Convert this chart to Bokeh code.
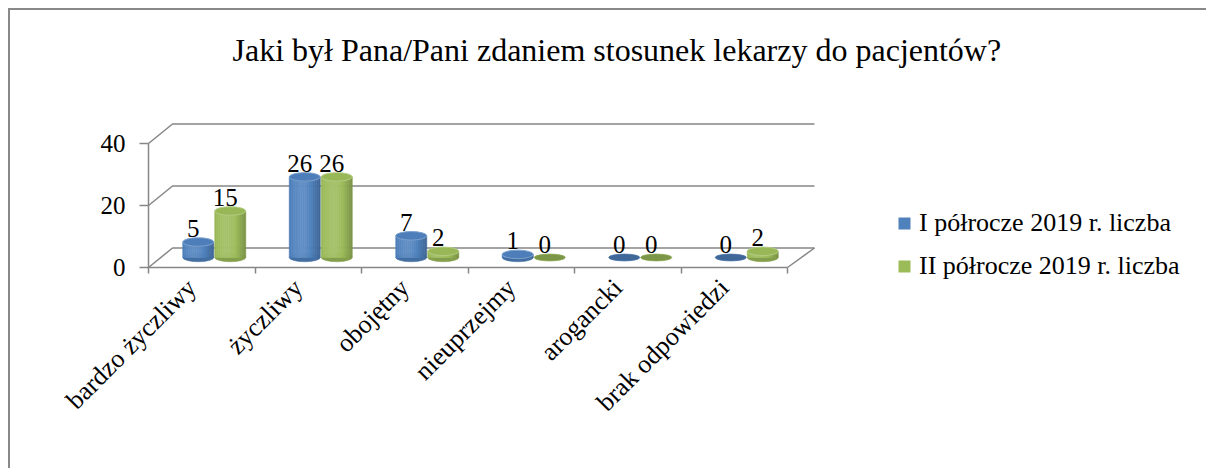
import numpy as np
from bokeh.plotting import figure
from bokeh.models import Range1d, LinearAxis, FixedTicker, Legend, LegendItem
from bokeh.embed import file_html
from bokeh.resources import INLINE
from bokeh.core.properties import value

# ---------------- data ----------------
title_text = "Jaki był Pana/Pani zdaniem stosunek lekarzy do pacjentów?"
categories = ["bardzo życzliwy", "życzliwy", "obojętny", "nieuprzejmy", "arogancki", "brak odpowiedzi"]
series_names = ["I półrocze 2019 r. liczba", "II półrocze 2019 r. liczba"]
series_1 = [5, 26, 7, 1, 0, 0]
series_2 = [15, 26, 2, 0, 0, 2]
y_ticks = [0, 20, 40]

# ---------------- style ----------------
FONT = "Liberation Serif"
AXIS_GRAY = "#868686"
BASE_COLORS = [(79, 129, 189), (155, 187, 89)]

# page geometry (px): frame spans x 10..1195, y 72..466; category 0 starts at x 148, value 0 at y 267
PX_X = 106.5          # px per category
PX_Y = 3.1            # px per value unit
X_MIN = -(148 - 10) / PX_X
X_MAX = (1195 - 148) / PX_X
Y_MAX = (267 - 72) / PX_Y
Y_MIN = -(466 - 267) / PX_Y

DXL = 24 / PX_X       # depth offset at left
DXR = 27 / PX_X       # depth offset at right
DY = 19.5 / PX_Y      # depth offset vertical
MID_DX = 12.5 / PX_X
MID_DY = 10 / PX_Y
BAR_W = 31 / PX_X
BAR_OFF = 16 / PX_X
ELL_H = 8.5 / PX_Y
N_STRIPS = 16
LABEL_SHIFT = 10 / PX_X


def mix(rgb, s):
    if s >= 0:
        c = tuple(int(round(v + (255 - v) * s)) for v in rgb)
    else:
        c = tuple(int(round(v * (1 + s))) for v in rgb)
    return "#%02x%02x%02x" % c


def shade(t):
    return 0.24 * np.cos(np.pi * (t - 0.38)) - 0.13


p = figure(width=1198, height=460,
           x_range=Range1d(X_MIN, X_MAX), y_range=Range1d(Y_MIN, Y_MAX),
           x_axis_type=None, y_axis_type=None,
           output_backend="svg", toolbar_location=None,
           min_border_left=0, min_border_right=13,
           min_border_top=62, min_border_bottom=4)
p.outline_line_color = None
p.background_fill_color = "white"
p.border_fill_color = "white"
p.styles = {"margin-left": "8px", "margin-top": "8px",
            "border-left": "2px solid #898989", "border-top": "2px solid #898989"}

p.title.text = title_text
p.title.text_font = FONT
p.title.text_font_size = "32px"
p.title.text_font_style = "normal"
p.title.text_color = "black"
p.title.align = "left"
p.title.offset = 222
p.title.standoff = 10

# y axis (front edge), fixed at category position 0
yax = LinearAxis(ticker=FixedTicker(ticks=y_ticks), bounds=(0, 40), fixed_location=0)
yax.axis_line_color = AXIS_GRAY
yax.axis_line_width = 1.5
yax.major_tick_line_color = AXIS_GRAY
yax.major_tick_line_width = 1.5
yax.major_tick_out = 9
yax.major_tick_in = 0
yax.minor_tick_line_color = None
yax.major_label_standoff = 14
yax.major_label_text_font = FONT
yax.major_label_text_font_size = "25px"
yax.major_label_text_color = "black"
p.add_layout(yax, "left")

# category axis (front floor edge), fixed at value 0
label_pos = [round(i + 0.5 - LABEL_SHIFT, 3) for i in range(len(categories))]
xax = LinearAxis(ticker=FixedTicker(ticks=label_pos, minor_ticks=list(range(len(categories) + 1))),
                 bounds=(0, len(categories)), fixed_location=0)
xax.major_label_overrides = {c: name for c, name in zip(label_pos, categories)}
xax.axis_line_color = AXIS_GRAY
xax.axis_line_width = 1.5
xax.major_tick_line_color = None
xax.major_tick_out = 0
xax.major_tick_in = 0
xax.minor_tick_line_color = AXIS_GRAY
xax.minor_tick_line_width = 1.5
xax.minor_tick_out = 6
xax.minor_tick_in = 0
xax.major_label_orientation = np.pi / 4
xax.major_label_standoff = 10
xax.major_label_text_font = FONT
xax.major_label_text_font_size = "26px"
xax.major_label_text_color = "black"
p.add_layout(xax, "below")

# back wall grid lines and floor edges
ncat = len(categories)
wall_xs, wall_ys = [], []
for v in y_ticks:
    wall_xs.append([0, DXL, ncat + DXR])
    wall_ys.append([v, v + DY, v + DY])
wall_xs.append([ncat, ncat + DXR])
wall_ys.append([0, DY])
p.multi_line(wall_xs, wall_ys, line_color=AXIS_GRAY, line_width=1.5)

# cylinders
legend_renderers = []
for k, vals in enumerate([series_1, series_2]):
    rgb = BASE_COLORS[k]
    sl, sr, sb, st, sc = [], [], [], [], []
    bot_x, bot_y = [], []
    top_x, top_y = [], []
    zero_x, zero_y = [], []
    cxs = []
    for i, v in enumerate(vals):
        cx = i + 0.5 + MID_DX + (2 * k - 1) * BAR_OFF
        cxs.append(cx)
        base = MID_DY
        if v > 0:
            bot_x.append(cx); bot_y.append(base)
            for j in range(N_STRIPS):
                left = cx - BAR_W / 2 + j * BAR_W / N_STRIPS
                sl.append(left); sr.append(left + BAR_W / N_STRIPS)
                sb.append(base); st.append(base + v)
                sc.append(mix(rgb, shade((j + 0.5) / N_STRIPS)))
            top_x.append(cx); top_y.append(base + v)
        else:
            zero_x.append(cx); zero_y.append(base)
    p.ellipse(bot_x, bot_y, width=BAR_W, height=ELL_H,
              fill_color=mix(rgb, -0.15), line_color=mix(rgb, -0.15), line_width=0.5)
    p.quad(left=sl, right=sr, bottom=sb, top=st, fill_color=sc, line_color=sc, line_width=0.6)
    p.ellipse(top_x, top_y, width=BAR_W, height=ELL_H,
              fill_color=mix(rgb, -0.02), line_color=mix(rgb, 0.25), line_width=1)
    p.ellipse(zero_x, zero_y, width=BAR_W, height=ELL_H * 0.8,
              fill_color=mix(rgb, -0.2), line_color=mix(rgb, -0.1), line_width=0.8)

    # legend proxy (zero-size markers at the bar tops)
    r = p.scatter(cxs, [MID_DY + v for v in vals], marker="square", size=0,
                  fill_color="#%02x%02x%02x" % rgb, line_color=None)
    legend_renderers.append(r)

    # data labels
    lx = [c - 5 / PX_X for c in cxs]
    ly = [MID_DY + v + 13.5 / PX_Y for v in vals]
    p.text(lx, ly, text=[str(v) for v in vals], text_font=value(FONT),
           text_font_size="25px", text_color="black",
           text_align="center", text_baseline="alphabetic")

# legend
legend = Legend(items=[LegendItem(label=series_names[0], renderers=[legend_renderers[0]]),
                       LegendItem(label=series_names[1], renderers=[legend_renderers[1]])],
                location=(879, 185))
legend.padding = 0
legend.margin = 0
legend.border_line_color = None
legend.background_fill_alpha = 0
legend.glyph_width = 30
legend.glyph_height = 30
legend.label_height = 29
legend.label_standoff = 0
legend.spacing = 13
legend.label_text_font = FONT
legend.label_text_font_size = "26px"
legend.label_text_color = "black"
p.add_layout(legend, "center")

open("out.html", "w").write(file_html(p, INLINE))
